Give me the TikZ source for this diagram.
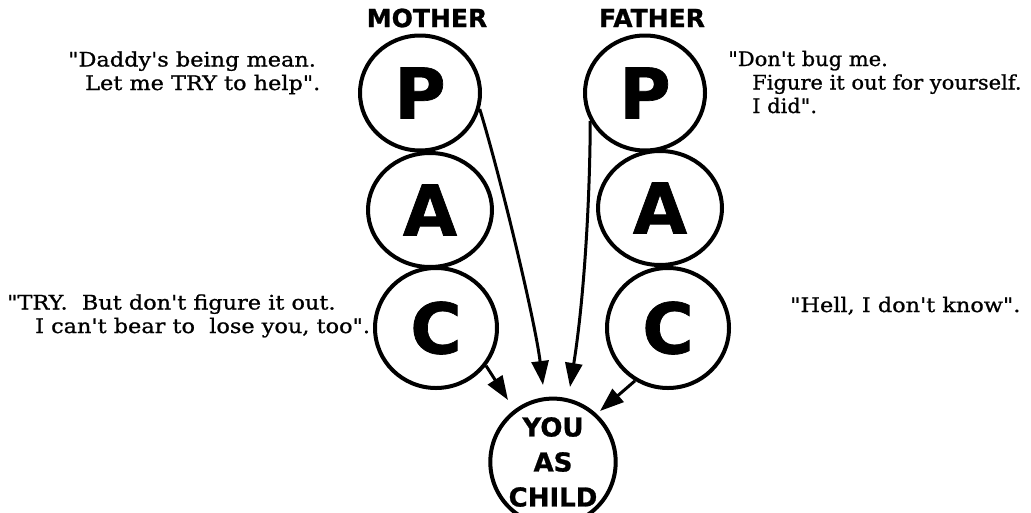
\documentclass[tikz,border=0pt]{standalone}
\usepackage{fontspec}
\setmainfont{DejaVu Serif}[Ligatures=TeXOff,FakeStretch=1.12,FakeBold=1]
\newfontfamily\sayb{DejaVu Serif}[Ligatures=TeXOff,FakeStretch=1.05,FakeBold=1]
\newfontfamily\heavy{DejaVu Sans}[FakeBold=1]
\usetikzlibrary{shapes.geometric,arrows.meta}
\begin{document}
\begin{tikzpicture}[x=1pt,y=-1pt,
  ring/.style={draw,ellipse,line width=4pt,inner sep=0pt},
  letter/.style={font=\heavy\bfseries\fontsize{70}{70}\selectfont},
  parent/.style={font=\heavy\bfseries\fontsize{25}{25}\selectfont},
  say/.style={font=\fontsize{20}{23.5}\selectfont,align=left,anchor=base west,inner sep=0pt},
  link/.style={line width=3pt,-{Triangle[length=24pt,width=17pt]}}]
\useasboundingbox (0,0) rectangle (1031,512);
\clip (0,0) rectangle (1031,512);
% parents
\node[parent] (mother) at (427,18) {MOTHER};
\node[parent] (father) at (652,18) {FATHER};
% mother ego states
\node[ring,minimum width=120pt,minimum height=115pt,letter] (mP) at (420,93) {P};
\node[ring,minimum width=124pt,minimum height=114pt,letter] (mA) at (430,210) {A};
\node[ring,minimum width=122pt,minimum height=120pt,letter] (mC) at (436,328) {C};
% father ego states
\node[ring,minimum width=120pt,minimum height=115pt,letter] (fP) at (645,93) {P};
\node[ring,minimum width=124pt,minimum height=114pt,letter] (fA) at (660,208) {A};
\node[ring,minimum width=122pt,minimum height=120pt,letter] (fC) at (668,328) {C};
% child
\node[ring,minimum width=124pt,minimum height=124pt,align=center,
  font=\heavy\bfseries\fontsize{26}{35}\selectfont] (child) at (553,462) {YOU\\AS\\CHILD};
% arrow tips
\coordinate (t1) at (543,385);
\coordinate (t2) at (570,387);
\coordinate (t3) at (508,400);
\coordinate (t4) at (600,411);
\draw[link] (mP.-15) .. controls (500,175) and (535,320) .. (t1);
\draw[link] (fP.-153) .. controls (590,200) and (584,300) .. (t2);
\draw[link] (mC.-37) -- (t3);
\draw[link] (fC.-122) -- (t4);
% sayings (anchored at the baseline of the last line)
\node[say] (s1) at (68,90) {"Daddy's being mean.\\\hspace*{17pt}Let me TRY to help".};
\node[say,font=\sayb\fontsize{20}{23.5}\selectfont] (s2) at (728,113) {"Don't bug me.\\\hspace*{24pt}Figure it out for yourself.\\\hspace*{24pt}I did".};
\node[say] (s3) at (7,333) {"TRY.\ \ But don't figure it out.\\\hspace*{28pt}I can't bear to\ \ lose you, too".};
\node[say] (s4) at (790,312) {"Hell, I don't know".};
\end{tikzpicture}
\end{document}
